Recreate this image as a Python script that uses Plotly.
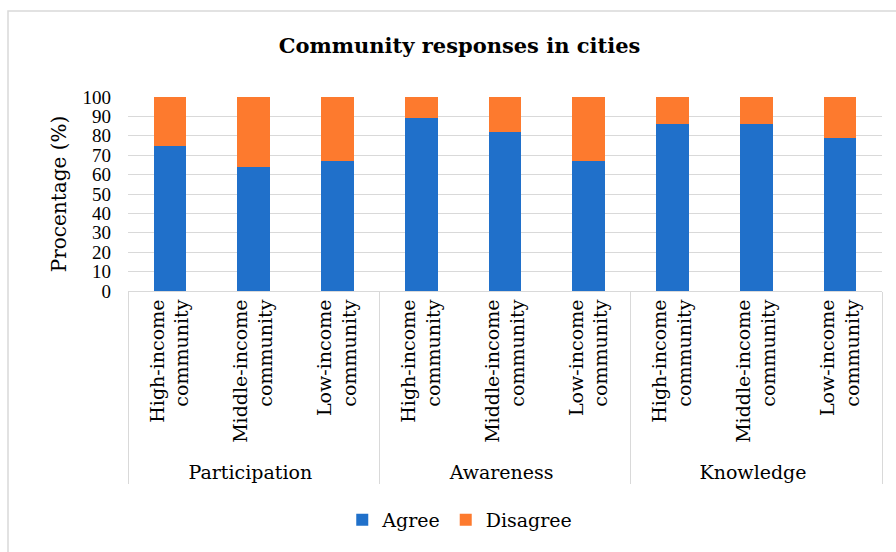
import plotly.graph_objects as go

groups = ["Participation", "Participation", "Participation",
          "Awareness", "Awareness", "Awareness",
          "Knowledge", "Knowledge", "Knowledge"]
categories = ["High-income<br>community", "Middle-income<br>community", "Low-income<br>community"] * 3
agree = [75, 64, 67, 89, 82, 67, 86, 86, 79]
disagree = [25, 36, 33, 11, 18, 33, 14, 14, 21]
yticks = [0, 10, 20, 30, 40, 50, 60, 70, 80, 90, 100]

SERIF = "DejaVu Serif"
NUM = "Liberation Serif"
W, H = 896, 552

fig = go.Figure()
fig.add_trace(go.Bar(x=[groups, categories], y=agree, name="Agree",
                     marker=dict(color="#2070CA", line=dict(width=0))))
fig.add_trace(go.Bar(x=[groups, categories], y=disagree, name="Disagree",
                     marker=dict(color="#FD7A2E", line=dict(width=0))))

fig.update_layout(
    width=W, height=H,
    barmode="stack", bargap=0.61,
    paper_bgcolor="white", plot_bgcolor="white",
    margin=dict(l=128, r=14, t=97, b=261),
    font=dict(family=SERIF, size=19, color="#000000"),
    title=dict(text="<b>Community responses in cities</b>", x=0.513, xanchor="center",
               y=1 - 46 / H, yanchor="middle", font=dict(family=SERIF, size=21, color="#000000")),
    showlegend=True,
    legend=dict(orientation="h", x=0.44, xanchor="center", y=1 - 520 / H, yanchor="middle",
                yref="container", font=dict(family=SERIF, size=19, color="#000000"),
                itemwidth=30, traceorder="normal", itemclick=False),
    xaxis=dict(type="multicategory", tickangle=-90, showline=True, linecolor="#D9D9D9",
               linewidth=1, showdividers=True, dividercolor="#D9D9D9", dividerwidth=1,
               ticks="", tickfont=dict(family=SERIF, size=19, color="#000000"),
               fixedrange=True),
    yaxis=dict(range=[0, 100], tickvals=yticks, ticktext=[str(v) for v in yticks],
               showgrid=True, gridcolor="#D9D9D9", gridwidth=1, zeroline=False,
               ticks="", ticklabelstandoff=16,
               tickfont=dict(family=NUM, size=19, color="#000000"),
               title=dict(text="Procentage (%)", font=dict(family=SERIF, size=20, color="#000000"),
                          standoff=10),
               fixedrange=True),
    shapes=[dict(type="rect", xref="paper", yref="paper",
                 x0=(8 - 128) / (W - 128 - 14), x1=(W + 20 - 128) / (W - 128 - 14),
                 y0=(261 - H - 20) / (H - 97 - 261), y1=(H - 11 - 261) / (H - 97 - 261),
                 line=dict(color="#D9D9D9", width=1.5), layer="below")],
)

fig.write_html("out.html")
